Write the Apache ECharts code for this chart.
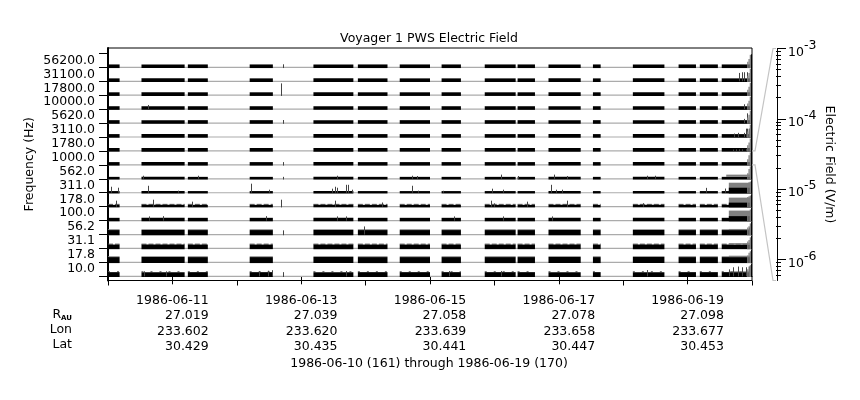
<!DOCTYPE html>
<html><head><meta charset="utf-8">
<style>html,body{margin:0;padding:0;background:#fff}#c{width:860px;height:400px}</style>
<script src="https://cdn.jsdelivr.net/npm/echarts@6/dist/echarts.min.js"></script></head>
<body><div id="c"></div>
<script>
// Frequency channels, lowest first
const freqLabels = ['10.0','17.8','31.1','56.2','100.0','178.0','311.0','562.0','1000.0','1780.0','3110.0','5620.0','10000.0','17800.0','31100.0','56200.0'];
// Time in days since 1986-06-10 00:00
const segments = [[0,0.18],[0.52,1.19],[1.24,1.55],[2.20,2.56],[3.19,3.81],[3.88,4.34],[4.53,5.00],[5.18,5.48],[5.85,6.33],[6.36,6.63],[6.84,7.34],[7.53,7.65],[8.15,8.64],[8.86,9.13],[9.19,9.47],[9.53,10]];
// Band heights as a fraction of a channel's row, index = channel
const bandHeight = [0.30,0.38,0.28,0.32,0.20,0.13,0.12,0.14,0.20,0.21,0.21,0.21,0.21,0.21,0.21,0.21];
const rimHeight  = [0.36,0.44,0.34,0.38,0,0.20,0,0,0,0,0,0,0,0,0,0];
const rimKind    = [1,0,2,0,0,2,0,0,0,0,0,0,0,0,0,0];
// Isolated short bursts near day 2.7 : [channel, day, height]
const burst = [[15,2.72,0.22],[13,2.68,0.85],[11,2.72,0.22],[8,2.72,0.20],[7,2.72,0.14],[5,2.68,0.50],[3,2.72,0.30],[0,2.72,0.30]];
// Spikes by channel : [day, height]
const spikes10   = [[0.56,.36],[0.9,.36],[2.35,.36],[2.48,.4],[2.55,.44],[3.7,.38],[5.3,.38],[6.1,.38],[8.37,.45],[9.65,.5],[9.7,.65],[9.78,.7],[9.84,.65],[9.9,.65],[9.96,.7]];
const spikes56   = [[3.98,.58],[9.96,.5]];
const spikes100  = [[0.64,.3],[0.86,.32],[2.46,.32],[3.55,.3],[3.7,.3],[5.37,.3],[6.13,.3],[6.9,.3]];
const spikes178  = [[0.12,.43],[0.7,.5],[1.3,.36],[3.53,.43],[4.26,.3],[5.95,.43],[6.0,.24],[6.5,.36],[7.13,.43],[8.3,.25]];
const spikes311  = [[0.04,.43],[0.16,.36],[0.62,.5],[1.08,.15],[2.22,.65],[2.5,.22],[3.48,.29],[3.53,.43],[3.55,.36],[3.69,.57],[3.72,.57],[3.79,.22],[4.72,.5],[4.82,.15],[5.2,.14],[5.96,.29],[6.14,.22],[6.88,.57],[6.95,.22],[7.05,.22],[9.28,.35],[9.58,.3]];
const spikes562  = [[0.54,.22],[1.4,.22],[3.55,.22],[4.72,.22],[4.8,.2],[6.1,.3],[6.36,.2],[6.92,.3],[7.12,.2],[8.37,.22],[8.49,.22]];
const spikes1780 = [[9.7,.1],[9.75,.12],[9.8,.12],[9.85,.12],[9.9,.15]];
const spikes3110 = [[9.72,.25],[9.78,.3],[9.87,.3],[9.9,.6],[9.93,.6],[9.96,.6]];
const spikes5620 = [[9.87,.3],[9.92,.7]];
const spikes10k  = [[0.62,.3],[9.88,.35]];
const spikes31k  = [[9.8,.6],[9.84,.65],[9.88,.65],[9.92,.65]];
const spikesByChannel = [spikes10,[],[],spikes56,spikes100,spikes178,spikes311,spikes562,[],spikes1780,spikes3110,spikes5620,spikes10k,[],spikes31k,[]];
// Last hours: [channel, start day, height]
const plateauGray  = [[1,9.64,.48],[2,9.64,.38],[3,9.64,.40],[4,9.64,.72],[5,9.64,.65],[6,9.64,.72],[7,9.60,.30],[0,9.64,.36]];
const plateauBlack = [[4,9.64,.32],[5,9.64,.29],[6,9.64,.36]];
// Steep rise in the last half hour : heights per channel at rampDays
const rampDays = [9.925,9.945,9.965,9.985];
const rampHeights = [[.5,.7,.8,.9],[.5,.7,.8,.9],[.5,.6,.8,.9],[.5,.6,.8,.9],[.5,.6,.8,.9],[.7,.75,.8,.9],[.7,.75,.8,.9],[.4,.7,.9,.95],[.4,.7,.9,.95],[.4,.6,.9,.95],[.4,.6,.9,.95],[.4,.6,.9,.95],[.4,.6,.9,.95],[.4,.6,.9,.95],[.4,.6,.9,.95],[.4,.6,.9,.95]];
// Bottom table
const dateDays  = [1,3,5,7,9];
const dateLabels = ['1986-06-11','1986-06-13','1986-06-15','1986-06-17','1986-06-19'];
const rAU = ['27.019','27.039','27.058','27.078','27.098'];
const lon = ['233.602','233.620','233.639','233.658','233.677'];
const lat = ['30.429','30.435','30.441','30.447','30.453'];
const evenDays = [0,2,4,6,8,10];
// Electric field scale
const fieldDecades = [1e-3,1e-4,1e-5,1e-6];
const fieldMinor = [9e-4,8e-4,7e-4,6e-4,5e-4,4e-4,3e-4,2e-4,9e-5,8e-5,7e-5,6e-5,5e-5,4e-5,3e-5,2e-5,9e-6,8e-6,7e-6,6e-6,5e-6,4e-6,3e-6,2e-6,9e-7,8e-7,7e-7,6e-7];
const FIELD_MIN = 5e-7, FIELD_MAX = 1e-3;

const FONT = '"DejaVu Sans"', FS = 12.5;
const BLACK='#000', GRAY='#808080', DARK='#444', LINE='#ababab';
const UNDER = -0.05, LABEL_START = 0.55, LABEL_STEP = 0.9957;
const RIM_DASH = {3:[2,7], 4:[5,2]};

// Row items: [kind, x0, x1, channel, h0, h1]
const items = [];
const rows = freqLabels.map((_, ch) => ch);
rows.forEach(ch => {
  segments.forEach(s => {
    const r = rimHeight[ch];
    if (r) items.push([rimKind[ch] ? 2 + rimKind[ch] : 1, s[0], s[1], ch, bandHeight[ch], r]);
    items.push([0, s[0], s[1], ch, UNDER, bandHeight[ch]]);
  });
});
burst.forEach(b => items.push([2, b[1], b[1], b[0], UNDER, b[2]]));
plateauGray.forEach(p => items.push([1, p[1], 10, p[0], bandHeight[p[0]], p[2]]));
plateauBlack.forEach(p => items.push([0, p[1], 10, p[0], UNDER, p[2]]));
spikesByChannel.forEach((list, ch) => list.forEach(s => items.push([2, s[0], s[0], ch, 0, s[1]])));
rampHeights.forEach((hs, ch) => hs.forEach((h, k) => items.push([k === 3 ? 0 : 1, rampDays[k], k === 3 ? 10 : rampDays[k+1], ch, UNDER, h])));

function renderRows(params, api) {
  const kind = api.value(0), x0 = api.value(1), x1 = api.value(2), ch = api.value(3), h0 = api.value(4), h1 = api.value(5);
  const a = api.coord([x0, ch + h0]), b = api.coord([x1, ch + h1]);
  if (kind === 2) {
    return {type:'line', shape:{x1:Math.round(a[0])+.5,y1:a[1],x2:Math.round(a[0])+.5,y2:b[1]}, style:{stroke:DARK,lineWidth:1}};
  }
  if (kind >= 3) {
    const y = (a[1]+b[1])/2;
    return {type:'line', shape:{x1:a[0],y1:y,x2:b[0],y2:y}, style:{stroke:'#555',lineWidth:Math.max(1,a[1]-b[1]),lineDash:RIM_DASH[kind]}};
  }
  return {type:'rect', shape:{x:a[0],y:b[1],width:b[0]-a[0],height:a[1]-b[1]}, style:{fill:kind===0?BLACK:GRAY}};
}
function renderBase(params, api) {
  const a = api.coord([0, api.value(0)]), b = api.coord([10, api.value(0)]);
  return {type:'line', shape:{x1:a[0],y1:a[1],x2:b[0],y2:b[1]}, style:{stroke:LINE,lineWidth:1.2}};
}

const chart = echarts.init(document.getElementById('c'), null, {renderer:'canvas'});
const txt = {fontFamily:FONT, fontSize:FS, color:'#000'};
const option = {
  animation:false, backgroundColor:'#fff',
  title:[
    {text:'Voyager 1 PWS Electric Field', left:424, top:27, textAlign:'center', textStyle:{...txt,fontWeight:'normal'}},
    {text:'1986-06-10 (161) through 1986-06-19 (170)', left:424, top:352, textAlign:'center', textStyle:{...txt,fontWeight:'normal'}}
  ],
  grid:[
    {left:108, right:108, top:48, height:232.5, show:true, borderColor:'#000', borderWidth:1, backgroundColor:'transparent'},
    {left:776, width:1, top:48.5, height:232}
  ],
  xAxis:[
    {type:'value', gridIndex:0, min:0, max:10, position:'bottom', splitLine:{show:false},
      axisLine:{lineStyle:{color:'#000',width:1.2}},
      axisTick:{length:8,customValues:dateDays,lineStyle:{color:'#000'}},
      axisLabel:{customValues:dateDays, margin:12.5, formatter:v=>{
        const i=dateDays.indexOf(v);
        return [dateLabels[i],rAU[i],lon[i],lat[i]].map(s=>'{r|'+s+'}').join('\n');
      }, rich:{r:{...txt,align:'right',lineHeight:15.3}}}},
    {type:'value', gridIndex:0, min:0, max:10, position:'bottom', splitLine:{show:false},
      axisLine:{show:false}, axisTick:{length:5,customValues:evenDays,lineStyle:{color:'#000'}}, axisLabel:{show:false}},
    {type:'value', gridIndex:1, min:0, max:1, show:false}
  ],
  yAxis:[
    {type:'value', gridIndex:0, min:-0.3, max:16.39, position:'left', name:'Frequency (Hz)', nameLocation:'middle', nameGap:72, nameRotate:90, nameMoveOverlap:false,
      nameTextStyle:{...txt}, splitLine:{show:false},
      axisLine:{show:true,onZero:false,lineStyle:{color:'#000',width:2}},
      axisTick:{show:true,length:9,customValues:[...freqLabels.map((_,i)=>i),16],lineStyle:{color:'#000',width:1}},
      axisLabel:{...txt, margin:13, customValues:freqLabels.map((_,i)=>LABEL_START+i*LABEL_STEP), formatter:v=>freqLabels[Math.round((v-LABEL_START)/LABEL_STEP)]}},
    {type:'log', gridIndex:1, logBase:10, min:FIELD_MIN, max:FIELD_MAX, position:'right', name:'Electric Field (V/m)', nameLocation:'middle', nameGap:46, nameRotate:-90, nameMoveOverlap:false,
      nameTextStyle:{...txt}, splitLine:{show:false},
      axisLine:{show:true,onZero:false,lineStyle:{color:'#000',width:1}},
      axisTick:{show:true,length:9,customValues:fieldDecades,lineStyle:{color:'#000'}},
      axisLabel:{customValues:fieldDecades, margin:11, padding:[8,0,0,0], formatter:v=>'{b|10}{s|'+Math.round(Math.log10(v))+'}',
        rich:{b:{...txt,fontSize:12.5},s:{...txt,fontSize:12.5,padding:[0,0,14,0]}}}},
    {type:'log', gridIndex:1, logBase:10, min:FIELD_MIN, max:FIELD_MAX, position:'right', splitLine:{show:false},
      axisLine:{show:false}, axisTick:{show:true,length:5,customValues:fieldMinor,lineStyle:{color:'#000'}}, axisLabel:{show:false}}
  ],
  series:[
    {type:'custom', xAxisIndex:0, yAxisIndex:0, coordinateSystem:'cartesian2d', renderItem:renderBase, data:rows.map(r=>[r]), encode:{y:0}, silent:true, z:1},
    {type:'custom', xAxisIndex:0, yAxisIndex:0, coordinateSystem:'cartesian2d', renderItem:renderRows, data:items, silent:true, z:2, encode:{x:[1,2],y:3}}
  ]
};
chart.setOption(option);
// Connector from the 1000 Hz row to the field scale, and the row-name labels
const top8 = chart.convertToPixel({xAxisIndex:0,yAxisIndex:0},[10,9]);
const bot8 = chart.convertToPixel({xAxisIndex:0,yAxisIndex:0},[10,8]);
const ax = chart.convertToPixel({xAxisIndex:2,yAxisIndex:1},[0,FIELD_MAX]);
const ay = chart.convertToPixel({xAxisIndex:2,yAxisIndex:1},[0,FIELD_MIN]);
const gline = {stroke:'#c4c4c4',lineWidth:1.2};
const rowText = (t,y,extra)=>({type:'text',x:72,y:y,style:{text:t,align:'right',verticalAlign:'middle',font:FS+'px '+FONT,fill:'#000',...extra}});
chart.setOption({graphic:[
  {type:'polyline',shape:{points:[top8,[top8[0]+3,top8[1]],[ax[0]-3,ax[1]],[ax[0],ax[1]]]},style:{...gline,fill:null},silent:true},
  {type:'polyline',shape:{points:[bot8,[bot8[0]+3,bot8[1]],[ay[0]-3,ay[1]],[ay[0],ay[1]]]},style:{...gline,fill:null},silent:true},
  rowText('{r|R}{a|AU}',315,{rich:{r:{fontFamily:FONT,fontSize:FS,fill:'#000'},a:{fontFamily:FONT,fontSize:7,fontWeight:'bold',fill:'#000',padding:[6,0,0,0]}}}),
  rowText('Lon',330),
  rowText('Lat',345)
]});
</script></body></html>
